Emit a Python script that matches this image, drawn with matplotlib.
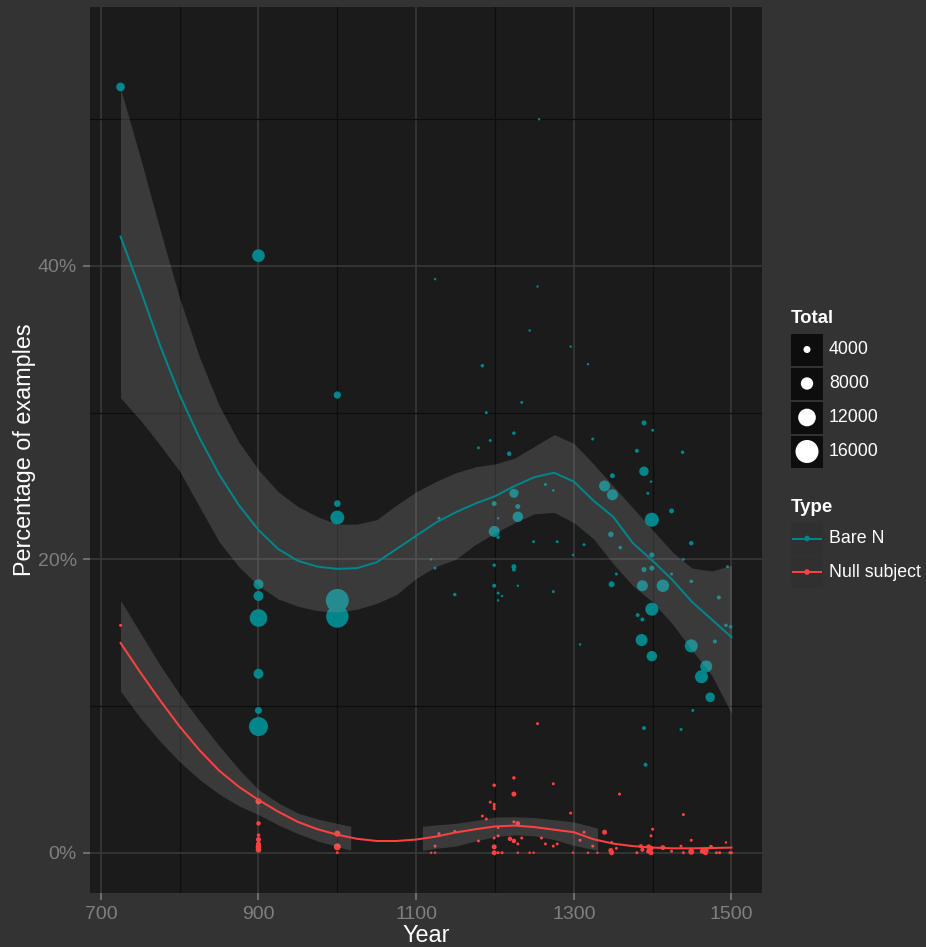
import numpy as np
import matplotlib
matplotlib.use("Agg")
import matplotlib.pyplot as plt
from matplotlib.patches import Rectangle, Circle

plt.rcParams['font.family'] = ['Liberation Sans', 'DejaVu Sans']

# ---------------------------------------------------------------- data
# Bare N: (year, percentage, total)
bare_year = [725, 900, 1000, 1000, 1000, 900, 900, 900, 1000, 1000, 900, 900, 900,
             1124, 1256, 1254, 1244, 1296, 1318, 1184, 1234, 1189, 1224, 1194, 1179,
             1218, 1264, 1274, 1224, 1229, 1229, 1199, 1129, 1204, 1229, 1199, 1204,
             1249, 1279, 1313, 1299, 1119, 1124, 1199, 1224, 1224, 1199, 1229, 1274,
             1149, 1204, 1209, 1204, 1389, 1400, 1324, 1380, 1438, 1349, 1389, 1339,
             1349, 1398, 1394, 1424, 1399, 1449, 1347, 1359, 1399, 1439, 1495, 1389,
             1399, 1354, 1424, 1449, 1348, 1387, 1413, 1484, 1399, 1381, 1387, 1493,
             1499, 1479, 1386, 1449, 1399, 1468, 1462, 1473, 1451, 1389, 1436, 1391,
             1308]
bare_pct = [52.2, 40.7, 31.2, 23.8, 22.85, 18.3, 17.5, 16.0, 17.2, 16.1, 12.2, 9.7, 8.6,
            39.1, 50.0, 38.6, 35.6, 34.5, 33.3, 33.2, 30.7, 30.0, 28.6, 28.1, 27.6,
            27.2, 25.1, 24.7, 24.5, 24.6, 23.6, 23.8, 22.8, 22.8, 22.9, 21.9, 21.5,
            21.2, 21.2, 21.0, 20.3, 20.0, 19.4, 19.6, 19.5, 19.3, 18.2, 18.2, 17.8,
            17.6, 17.7, 17.5, 17.2, 29.3, 28.8, 28.2, 27.4, 27.3, 25.7, 26.0, 25.0,
            24.4, 25.3, 24.5, 23.3, 22.7, 21.1, 21.7, 20.8, 20.3, 20.0, 19.5, 19.3,
            19.4, 19.0, 19.0, 18.5, 18.3, 18.2, 18.2, 17.4, 16.6, 16.2, 15.9, 15.5,
            15.4, 14.4, 14.5, 14.1, 13.4, 12.7, 12.0, 10.6, 9.7, 8.5, 8.4, 6.0,
            14.2]
bare_total = [5300, 8300, 4200, 3800, 9200, 6200, 6200, 12000, 16000, 15500, 6200, 4000, 13000,
              600, 600, 600, 620, 620, 620, 1370, 1000, 1000, 1370, 1000, 1000,
              2120, 1000, 620, 5500, 250, 2500, 2500, 1000, 620, 6600, 7000, 1370,
              1000, 1000, 1000, 620, 620, 1000, 1370, 2500, 1750, 1750, 620, 1000,
              1370, 1000, 620, 620, 2500, 1000, 1000, 1750, 1370, 2500, 5900, 7000,
              7000, 620, 1000, 2500, 9300, 2100, 2900, 1370, 2500, 1000, 1000, 2500,
              2500, 1000, 1000, 1370, 3250, 7000, 8100, 1750, 8500, 1750, 1750, 1370,
              1370, 1750, 7750, 8500, 6600, 7750, 8500, 5900, 1000, 1750, 1000, 1750,
              620]

# Null subject: (year, percentage, total)
null_year = [725, 900, 900, 900, 900, 900, 900, 900, 1000, 1000, 1000,
             1254, 1224, 1199, 1274, 1224, 1194, 1199, 1199, 1199, 1184, 1189, 1296,
             1204, 1224, 1229, 1129, 1149, 1313, 1308, 1124, 1179, 1199, 1204, 1219,
             1224, 1229, 1234, 1259, 1264, 1274, 1279, 1199, 1199, 1204, 1209, 1119,
             1124, 1229, 1244, 1249, 1299, 1318, 1358, 1439, 1400, 1398, 1339, 1449,
             1493, 1436, 1474, 1348, 1354, 1347, 1348, 1385, 1387, 1380, 1395, 1395,
             1398, 1398, 1413, 1424, 1439, 1449, 1463, 1468, 1467, 1481, 1485, 1498,
             1500, 1330, 1324]
null_pct = [15.5, 3.5, 2.0, 1.2, 0.9, 0.6, 0.4, 0.2, 1.3, 0.4, 0.0,
            8.8, 5.1, 4.6, 4.7, 4.0, 3.45, 3.3, 3.15, 3.0, 2.5, 2.3, 2.7,
            1.7, 2.1, 2.0, 1.3, 1.45, 1.4, 0.85, 0.45, 0.8, 1.0, 1.15, 0.95,
            0.8, 0.6, 1.0, 1.0, 0.6, 0.45, 0.6, 0.4, 0.0, 0.0, 0.0, 0.0,
            0.0, 0.0, 0.0, 0.0, 0.0, 0.0, 4.0, 2.6, 1.6, 1.15, 1.4, 0.85,
            0.7, 0.45, 0.4, 0.7, 0.3, 0.15, 0.0, 0.45, 0.2, 0.0, 0.4, 0.1,
            0.3, 0.0, 0.35, 0.1, 0.0, 0.07, 0.1, 0.15, 0.0, 0.0, 0.0, 0.0,
            0.0, 0.0, 0.45]
null_total = [1000, 3300, 2100, 1400, 2500, 2500, 3000, 3000, 3300, 4000, 1000,
              1000, 1370, 1370, 1000, 2500, 1000, 1000, 1000, 1000, 1000, 1000, 1000,
              620, 1000, 2100, 1000, 1000, 1000, 1000, 1000, 1000, 1000, 1000, 2100,
              2100, 1000, 1000, 1000, 1000, 1000, 1000, 2500, 2500, 1000, 1000, 620,
              620, 620, 620, 620, 620, 620, 1000, 1000, 1000, 1000, 2500, 1000,
              620, 1000, 1750, 1000, 1000, 2500, 2500, 1750, 1750, 1000, 2500, 2500,
              2500, 2500, 2500, 1000, 1000, 3250, 2500, 2500, 2500, 1000, 1000, 1000,
              1000, 620, 1000]

# Smoothed trends with confidence bands
fit_years = [725, 750, 775, 800, 825, 850, 875, 900, 925, 950, 975, 1000,
             1025, 1050, 1075, 1100, 1125, 1150, 1175, 1200, 1225, 1250, 1275,
             1300, 1325, 1350, 1375, 1400, 1425, 1450, 1475, 1500]
bare_fit = [42.0, 38.4, 34.6, 31.2, 28.3, 25.8, 23.7, 22.0, 20.7, 19.9, 19.5, 19.35,
            19.4, 19.8, 20.7, 21.6, 22.5, 23.2, 23.8, 24.3, 25.0, 25.6, 25.9,
            25.3, 24.0, 22.9, 21.1, 19.9, 18.6, 17.1, 15.9, 14.7]
bare_hi = [52.1, 47.4, 42.5, 37.8, 33.8, 30.5, 28.0, 26.1, 24.6, 23.6, 22.9, 22.4,
           22.4, 22.7, 23.7, 24.6, 25.3, 25.9, 26.3, 26.5, 26.9, 27.7, 28.5,
           27.9, 26.5, 25.0, 23.5, 22.0, 20.5, 19.4, 19.2, 19.6]
bare_lo = [31.0, 29.5, 27.8, 26.0, 23.6, 21.2, 19.5, 18.2, 17.3, 16.8, 16.5, 16.4,
           16.6, 17.0, 17.6, 18.7, 19.5, 20.0, 21.0, 21.8, 22.5, 23.1, 23.2,
           22.5, 21.4, 19.7, 18.2, 17.1, 15.6, 13.8, 12.1, 9.5]
null_fit = [14.3, 12.3, 10.4, 8.6, 7.0, 5.6, 4.5, 3.6, 2.8, 2.1, 1.6, 1.23,
            0.95, 0.8, 0.8, 0.9, 1.1, 1.38, 1.6, 1.79, 1.85, 1.75, 1.57,
            1.4, 0.92, 0.62, 0.45, 0.35, 0.3, 0.3, 0.32, 0.35]
null_band1_years = [725, 750, 775, 800, 825, 850, 875, 900, 925, 950, 975, 1000, 1017]
null_band1_lo = [11.0, 9.2, 7.6, 6.2, 5.0, 4.0, 3.2, 2.6, 1.9, 1.3, 0.8, 0.43, 0.16]
null_band1_hi = [17.2, 15.0, 12.8, 10.8, 9.0, 7.3, 5.7, 4.3, 3.4, 2.7, 2.3, 2.0, 1.8]
null_band2_years = [1108, 1125, 1150, 1175, 1200, 1225, 1250, 1275, 1300, 1330]
null_band2_lo = [0.16, 0.3, 0.45, 0.8, 1.1, 1.22, 1.15, 0.9, 0.5, 0.16]
null_band2_hi = [1.8, 1.9, 2.0, 2.2, 2.43, 2.45, 2.4, 2.25, 2.1, 1.68]

size_breaks = [4000, 8000, 12000, 16000]
type_labels = ["Bare N", "Null subject"]

x_major = [700, 900, 1100, 1300, 1500]
x_minor = [800, 1000, 1200, 1400]
y_major = [0, 20, 40]
y_minor = [10, 30, 50]

# ---------------------------------------------------------------- style
W, H, DPI = 926, 947, 100
BG = "#333333"
PANEL = "#1b1b1b"
TEAL = "#00868b"
RED = "#ff4040"
BAND = "#9a9a9a"
BAND_ALPHA = 0.25
TICK_GREY = "#7f7f7f"


def diameter_px(total):
    return 1.67 + np.asarray(total, dtype=float) / 750.0


def marker_area(total):
    return (diameter_px(total) * 72.0 / DPI) ** 2


fig = plt.figure(figsize=(W / DPI, H / DPI), dpi=DPI, facecolor=BG)
left, right, top, bottom = 90, 762, 7, 893
ax = fig.add_axes([left / W, 1 - bottom / H, (right - left) / W, (bottom - top) / H])
ax.set_facecolor(PANEL)
for s in ax.spines.values():
    s.set_visible(False)

ax.set_xlim(686.25, 1538.75)
ax.set_ylim(-2.745, 57.65)
ax.set_xticks(x_major)
ax.set_xticks(x_minor, minor=True)
ax.set_yticks(y_major)
ax.set_yticks(y_minor, minor=True)
ax.set_yticklabels([f"{v}%" for v in y_major])
ax.grid(which="major", color="#3b3b3b", lw=1.1, zorder=0)
ax.grid(which="minor", color="#0d0d0d", lw=0.9, zorder=0)
ax.set_axisbelow(True)
ax.tick_params(which="major", length=5, width=1.1, color=TICK_GREY,
               labelcolor=TICK_GREY, labelsize=14, pad=4.5)
ax.tick_params(which="minor", length=0)

# points (drawn first, the bands sit on top of them)
ax.scatter(bare_year, bare_pct, s=marker_area(bare_total), color=TEAL,
           linewidths=0, zorder=2)
ax.scatter(null_year, null_pct, s=marker_area(null_total), color=RED,
           linewidths=0, zorder=2)

# smoothers
ax.fill_between(fit_years, bare_lo, bare_hi, color=BAND, alpha=BAND_ALPHA,
                linewidth=0, zorder=3)
ax.plot(fit_years, bare_fit, color=TEAL, lw=1.45, zorder=4)
ax.fill_between(null_band1_years, null_band1_lo, null_band1_hi, color=BAND,
                alpha=BAND_ALPHA, linewidth=0, zorder=5)
ax.fill_between(null_band2_years, null_band2_lo, null_band2_hi, color=BAND,
                alpha=BAND_ALPHA, linewidth=0, zorder=5)
ax.plot(fit_years, null_fit, color=RED, lw=1.45, zorder=6)

# axis titles
fig.text(426 / W, 1 - 942 / H, "Year", color="white", fontsize=16.8,
         ha="center", va="baseline")
fig.text(31 / W, 1 - 450 / H, "Percentage of examples", color="white",
         fontsize=16.8, rotation=90, rotation_mode="anchor",
         ha="center", va="baseline")

# legends, laid out in pixel space
lg = fig.add_axes([0, 0, 1, 1], facecolor="none")
lg.set_xlim(0, W)
lg.set_ylim(H, 0)
lg.axis("off")

KEY_X, KEY_W, KEY_H, KEY_STEP = 791, 32, 32, 34
lg.text(KEY_X, 318.5, "Total", color="white", fontsize=13.4, fontweight="bold",
        ha="left", va="center")
for i, val in enumerate(size_breaks):
    y0 = 333.5 + i * KEY_STEP
    lg.add_patch(Rectangle((KEY_X, y0), KEY_W, KEY_H, facecolor="#0d0d0d",
                           edgecolor="none"))
    lg.add_patch(Circle((KEY_X + KEY_W / 2, y0 + KEY_H / 2),
                        float(diameter_px(val)) / 2, facecolor="white",
                        edgecolor="none"))
    lg.text(829, y0 + KEY_H / 2, str(val), color="white", fontsize=12.8,
            ha="left", va="center")

lg.text(KEY_X, 507, "Type", color="white", fontsize=13.4, fontweight="bold",
        ha="left", va="center")
for i, (lab, col) in enumerate(zip(type_labels, [TEAL, RED])):
    y0 = 522.5 + i * (KEY_H + 1.5)
    lg.add_patch(Rectangle((KEY_X, y0), KEY_W, KEY_H, facecolor="#0d0d0d",
                           edgecolor="none"))
    lg.add_patch(Rectangle((KEY_X, y0), KEY_W, KEY_H, facecolor=BAND,
                           alpha=BAND_ALPHA, edgecolor="none"))
    yc = y0 + KEY_H / 2
    lg.plot([KEY_X + 2, KEY_X + KEY_W - 2], [yc, yc], color=col, lw=1.45)
    lg.add_patch(Circle((KEY_X + KEY_W / 2, yc), 2.8, facecolor=col,
                        edgecolor="none"))
    lg.text(829, yc, lab, color="white", fontsize=12.8, ha="left", va="center")

fig.savefig("out.png", dpi=DPI, facecolor=BG)
